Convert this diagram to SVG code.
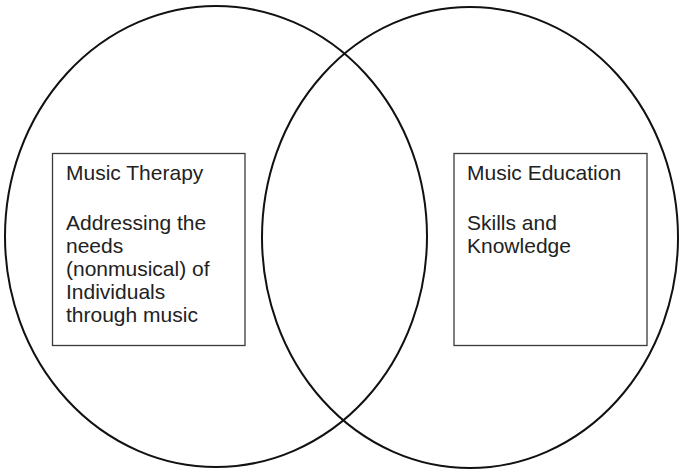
<svg xmlns="http://www.w3.org/2000/svg" width="680" height="472" viewBox="0 0 680 472">
  <style>
    .circle { fill: none; stroke: #111; stroke-width: 2; }
    .box { fill: #fff; stroke: #3a3a3a; stroke-width: 1.3; }
    .label { font-family: "Liberation Sans", Arial, sans-serif; font-size: 21px; fill: #222; }
  </style>
  <rect width="680" height="472" fill="#fff"/>
  <g id="therapy">
    <ellipse class="circle" cx="216" cy="236.5" rx="211" ry="230.5"/>
    <rect class="box" x="52.5" y="153.5" width="192.5" height="192"/>
    <text class="label" x="66" y="180">Music Therapy</text>
    <text class="label" x="66" y="229.5">Addressing the</text>
    <text class="label" x="66" y="252.5">needs</text>
    <text class="label" x="66" y="275.5">(nonmusical) of</text>
    <text class="label" x="66" y="298.5">Individuals</text>
    <text class="label" x="66" y="321.5">through music</text>
  </g>
  <g id="education">
    <ellipse class="circle" cx="470" cy="237.5" rx="208" ry="230.5"/>
    <rect class="box" x="454" y="153.5" width="193" height="192"/>
    <text class="label" x="467" y="180">Music Education</text>
    <text class="label" x="467" y="229.5">Skills and</text>
    <text class="label" x="467" y="252.5">Knowledge</text>
  </g>
</svg>
